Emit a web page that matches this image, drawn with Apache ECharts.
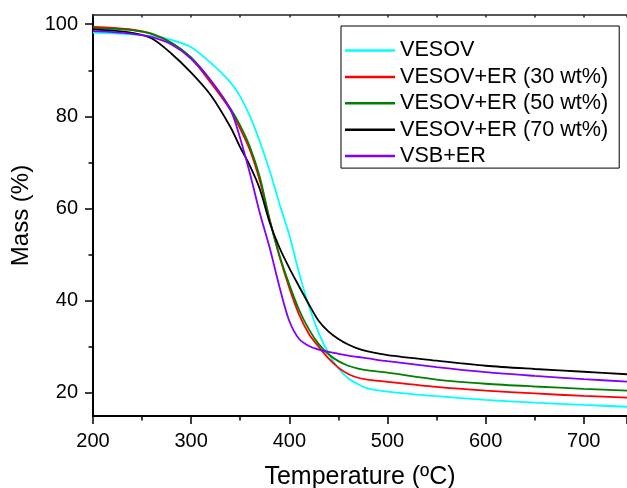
<!DOCTYPE html>
<html>
<head>
<meta charset="utf-8">
<title>TGA</title>
<script src="https://cdn.jsdelivr.net/npm/echarts@6/dist/echarts.min.js"></script>
<style>
  html, body { margin: 0; padding: 0; background: #fff; }
  #main { width: 627px; height: 488px; }
</style>
</head>
<body>
<div id="main"></div>
<script>
// temperature (ºC) shared by all curves
var temps = [200, 220, 240, 260, 280, 300, 320, 340, 350, 360, 370, 380, 390, 400, 410, 420, 430, 440, 450, 460, 470, 480, 500, 550, 600, 650, 700, 745];

// mass (%)
var vesov   = [98.2, 98.0, 97.8, 97.4, 96.6, 95.0, 91.6, 87.4, 84.3, 80.0, 74.5, 68.2, 61.0, 54.2, 46.0, 38.8, 33.0, 28.6, 25.3, 23.2, 21.9, 21.0, 20.3, 19.3, 18.5, 17.9, 17.4, 17.0];
var er30    = [99.4, 99.2, 98.8, 97.9, 95.9, 92.6, 87.3, 81.4, 77.3, 72.6, 66.0, 57.6, 49.6, 42.8, 37.0, 32.8, 30.0, 27.5, 25.5, 24.1, 23.3, 22.9, 22.4, 21.3, 20.5, 19.9, 19.35, 19.0];
var er50    = [99.1, 99.0, 98.7, 97.9, 96.0, 92.8, 87.8, 81.7, 78.0, 73.3, 66.8, 57.5, 49.8, 43.5, 38.0, 33.8, 30.6, 28.4, 26.9, 25.9, 25.3, 24.9, 24.4, 22.9, 22.0, 21.4, 20.9, 20.5];
var er70    = [98.9, 98.6, 98.1, 96.9, 93.6, 89.5, 84.6, 77.7, 73.3, 69.2, 64.2, 57.0, 51.5, 47.1, 43.1, 39.2, 35.6, 33.3, 31.7, 30.5, 29.6, 29.0, 28.2, 27.0, 25.9, 25.2, 24.6, 24.05];
var vsbEr   = [98.5, 98.3, 97.9, 97.2, 95.6, 92.5, 87.8, 81.5, 75.2, 67.5, 59.0, 51.5, 43.0, 35.6, 31.7, 30.2, 29.4, 28.9, 28.5, 28.1, 27.8, 27.5, 26.9, 25.6, 24.5, 23.7, 23.0, 22.45];

var names  = ['VESOV', 'VESOV+ER (30 wt%)', 'VESOV+ER (50 wt%)', 'VESOV+ER (70 wt%)', 'VSB+ER'];
var colors = ['#00ffff', '#ff0000', '#008000', '#000000', '#8000ff'];
var xLabels = [200, 300, 400, 500, 600, 700];
var yLabels = [20, 40, 60, 80, 100];

var font = "'Liberation Sans', Arial, sans-serif";

function pairs(ys) {
    var out = [];
    for (var i = 0; i < temps.length; i++) out.push([temps[i], ys[i]]);
    return out;
}

var allData = [vesov, er30, er50, er70, vsbEr];
var series = [];
for (var s = 0; s < names.length; s++) {
    series.push({
        name: names[s],
        type: 'line',
        data: pairs(allData[s]),
        symbol: 'none',
        smooth: 0.3,
        lineStyle: { color: colors[s], width: 1.8 },
        itemStyle: { color: colors[s] }
    });
}

var myChart = echarts.init(document.getElementById('main'));
var option = {
    animation: false,
    backgroundColor: '#fff',
    grid: { left: 93, top: 15, right: 0, bottom: 72, containLabel: false, outerBoundsMode: 'none' },
    legend: {
        orient: 'vertical',
        left: 341,
        top: 26,
        data: names,
        icon: 'rect',
        itemWidth: 50,
        itemHeight: 2.5,
        itemGap: 2.4,
        padding: [12.5, 11, 0, 4],
        borderColor: '#000',
        borderWidth: 1,
        textStyle: { fontFamily: font, fontSize: 21.6, color: '#000', lineHeight: 24 }
    },
    xAxis: [{
        type: 'value',
        position: 'bottom',
        min: 200,
        max: 744,
        interval: 100,
        name: 'Temperature (ºC)',
        nameLocation: 'middle',
        nameGap: 49,
        nameTextStyle: { fontFamily: font, fontSize: 25, color: '#000' },
        axisLine: { lineStyle: { color: '#000', width: 2 } },
        axisTick: { length: 8, lineStyle: { color: '#000', width: 1.5 } },
        minorTick: { show: true, splitNumber: 2, length: 4.5, lineStyle: { color: '#000', width: 1.5 } },
        axisLabel: { customValues: xLabels, margin: 15, fontFamily: font, fontSize: 20, color: '#000' },
        splitLine: { show: false }
    }, {
        type: 'value',
        position: 'top',
        min: 200,
        max: 744,
        interval: 50,
        axisLine: { lineStyle: { color: '#222', width: 1.5 } },
        axisTick: { inside: true, length: 2.5, lineStyle: { color: '#222', width: 1.5 } },
        axisLabel: { show: false },
        splitLine: { show: false }
    }],
    yAxis: {
        type: 'value',
        min: 15,
        max: 102,
        name: 'Mass (%)',
        nameLocation: 'middle',
        nameGap: 52,
        nameTextStyle: { fontFamily: font, fontSize: 24, color: '#000' },
        axisLine: { show: true, lineStyle: { color: '#000', width: 2 } },
        axisTick: { show: true, customValues: yLabels, length: 8, lineStyle: { color: '#000', width: 1.5 } },
        minorTick: { show: true, splitNumber: 2, length: 4.5, lineStyle: { color: '#000', width: 1.5 } },
        axisLabel: { customValues: yLabels, margin: 15, fontFamily: font, fontSize: 20, color: '#000' },
        splitLine: { show: false }
    },
    series: series
};
myChart.setOption(option);
</script>
</body>
</html>
